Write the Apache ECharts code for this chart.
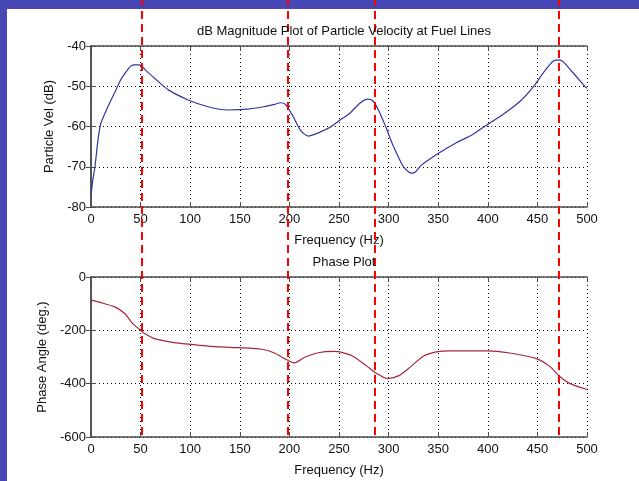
<!DOCTYPE html>
<html>
<head>
<meta charset="utf-8">
<script src="https://cdn.jsdelivr.net/npm/echarts@6/dist/echarts.min.js"></script>
<style>
  html, body { margin: 0; padding: 0; background: #4747b5; }
  #chart { width: 639px; height: 481px; }
</style>
</head>
<body>
<div id="chart"></div>
<script>
// magnitude plot (dB vs Hz)
const magFreq = [0, 2, 4, 7, 10, 17, 24, 30, 36, 40, 44, 49, 55, 64, 78, 98, 118, 138, 158, 174, 185, 191, 196, 204, 211, 219, 228, 241, 251, 261, 271, 279, 284, 290, 297, 305, 315, 323, 327, 333, 350, 367, 384, 399, 417, 434, 446, 458, 468, 473, 485, 498, 500];
const magDb = [-77, -73, -70, -63.4, -59.2, -55.1, -51.5, -48.4, -46.2, -45, -44.7, -44.7, -46, -48, -50.9, -53.4, -55.1, -55.9, -55.7, -55.1, -54.5, -54.1, -54.5, -57.6, -60.9, -62.4, -61.7, -60.2, -58.4, -56.7, -54.2, -53.2, -53.6, -56, -60, -65, -70, -71.6, -71.3, -69.6, -66.7, -64.2, -62.1, -59.6, -56.7, -53.4, -50.1, -46, -43.5, -43.5, -46.4, -50.1, -50.5];

// phase plot (deg vs Hz)
const phFreq = [0, 10, 24, 34, 42, 49, 54, 64, 81, 98, 118, 148, 172, 185, 195, 205, 215, 229, 245, 251, 264, 277, 288, 299, 311, 322, 335, 348, 362, 399, 422, 449, 463, 473, 483, 500];
const phDeg = [-87, -96, -112, -137, -175, -197, -212, -231, -244, -252, -259, -265, -271, -285, -306, -322, -302, -284, -279, -281, -297, -331, -362, -381, -369, -337, -297, -281, -277, -277, -285, -306, -337, -375, -400, -422];

// red dashed marker frequencies drawn over both plots
const markerFreqs = [51, 198, 286, 472];

const fontFamily = '"Liberation Sans", Arial, sans-serif';
const frameColor = '#4d4d4d';
const textColor = '#111';

const zip = (xs, ys) => xs.map((x, i) => [x, ys[i]]);

const chart = echarts.init(document.getElementById('chart'));

// common axis pieces
const xBase = (gridIndex) => ({
  type: 'value',
  gridIndex: gridIndex,
  min: 0,
  max: 500,
  interval: 50,
  axisLine: { show: true, onZero: false, lineStyle: { color: frameColor, width: 1.5 } },
  axisTick: { show: true, inside: true, length: 5, lineStyle: { color: frameColor } },
  axisLabel: { color: textColor, fontSize: 13, fontFamily: fontFamily, margin: 6 },
  splitLine: { show: true, lineStyle: { color: '#000', type: [1, 3], width: 1 } },
  name: 'Frequency (Hz)',
  nameLocation: 'middle',
  nameGap: 27,
  nameTextStyle: { color: textColor, fontSize: 13, fontFamily: fontFamily }
});
const xTop = (gridIndex) => ({
  type: 'value',
  gridIndex: gridIndex,
  position: 'top',
  min: 0,
  max: 500,
  interval: 50,
  axisLine: { show: true, lineStyle: { color: frameColor, width: 1.5 } },
  axisTick: { show: true, inside: true, length: 5, lineStyle: { color: frameColor } },
  axisLabel: { show: false },
  splitLine: { show: false }
});
const yBase = (gridIndex, min, max, interval, name, gap) => ({
  type: 'value',
  gridIndex: gridIndex,
  min: min,
  max: max,
  interval: interval,
  axisLine: { show: true, onZero: false, lineStyle: { color: frameColor, width: 1.5 } },
  axisTick: { show: true, inside: true, length: 5, lineStyle: { color: frameColor } },
  axisLabel: { color: textColor, fontSize: 13, fontFamily: fontFamily, margin: 5 },
  splitLine: { show: true, lineStyle: { color: '#000', type: [1, 3], width: 1 } },
  name: name,
  nameLocation: 'middle',
  nameGap: gap,
  nameTextStyle: { color: textColor, fontSize: 13, fontFamily: fontFamily }
});
const yRight = (gridIndex, min, max, interval) => ({
  type: 'value',
  gridIndex: gridIndex,
  position: 'right',
  min: min,
  max: max,
  interval: interval,
  axisLine: { show: true, lineStyle: { color: frameColor, width: 1.5 } },
  axisTick: { show: true, inside: true, length: 5, lineStyle: { color: frameColor } },
  axisLabel: { show: false },
  splitLine: { show: false }
});

const option = {
  animation: false,
  backgroundColor: '#4747b5',
  graphic: [
    {
      type: 'rect',
      z: -10,
      shape: { x: 7, y: 9, width: 632, height: 472 },
      style: { fill: '#ffffff' },
      silent: true
    }
  ],
  title: [
    {
      text: 'dB Magnitude Plot of Particle Velocity at Fuel Lines',
      left: 339,
      top: 20,
      textAlign: 'center',
      textStyle: { color: textColor, fontSize: 13, fontWeight: 'normal', fontFamily: fontFamily }
    },
    {
      text: 'Phase Plot',
      left: 339,
      top: 251,
      textAlign: 'center',
      textStyle: { color: textColor, fontSize: 13, fontWeight: 'normal', fontFamily: fontFamily }
    }
  ],
  grid: [
    { left: 91, top: 46, width: 496, height: 161 },
    { left: 91, top: 277, width: 496, height: 160 },
    { left: 91, top: 0, width: 496, height: 435 }
  ],
  xAxis: [
    xBase(0),
    xBase(1),
    xTop(0),
    xTop(1),
    { type: 'value', gridIndex: 2, min: 0, max: 500, show: false }
  ],
  yAxis: [
    yBase(0, -80, -40, 10, 'Particle Vel (dB)', 34),
    yBase(1, -600, 0, 200, 'Phase Angle (deg.)', 41),
    yRight(0, -80, -40, 10),
    yRight(1, -600, 0, 200),
    { type: 'value', gridIndex: 2, min: 0, max: 1, show: false }
  ],
  series: [
    {
      type: 'line',
      xAxisIndex: 0,
      yAxisIndex: 0,
      data: zip(magFreq, magDb),
      smooth: 0.25,
      showSymbol: false,
      lineStyle: { color: '#3535a0', width: 1.2 },
      z: 3
    },
    {
      type: 'line',
      xAxisIndex: 1,
      yAxisIndex: 1,
      data: zip(phFreq, phDeg),
      smooth: 0.25,
      showSymbol: false,
      lineStyle: { color: '#a8283a', width: 1.2 },
      z: 3
    },
    {
      type: 'line',
      xAxisIndex: 4,
      yAxisIndex: 4,
      data: [],
      z: 10,
      markLine: {
        silent: true,
        symbol: ['none', 'none'],
        label: { show: false },
        lineStyle: { color: '#ff0000', width: 2, type: [8, 5] },
        data: markerFreqs.map((f) => ({ xAxis: f }))
      }
    }
  ]
};

chart.setOption(option);
</script>
</body>
</html>
